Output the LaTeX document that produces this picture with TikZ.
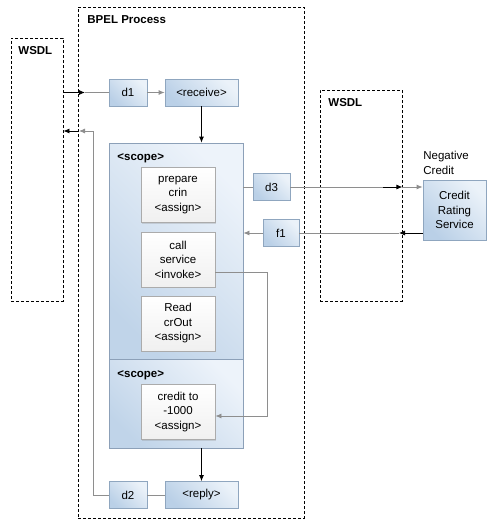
\documentclass[tikz,border=0pt]{standalone}
\usepackage{fontspec}
\setmainfont{Liberation Sans}
\usetikzlibrary{arrows.meta,shadows}
\definecolor{boxdark}{HTML}{BAD0E7}
\definecolor{boxlight}{HTML}{EBF2F9}
\definecolor{boxline}{HTML}{8FA6BF}
\definecolor{scopedark}{HTML}{C0D4E9}
\definecolor{scopelight}{HTML}{EDF3FA}
\definecolor{scopeline}{HTML}{8CA0B8}
\definecolor{actline}{HTML}{ABABAB}
\definecolor{flow}{HTML}{8E8E8E}

\begin{document}
\begin{tikzpicture}[x=1pt, y=-1pt, font=\fontsize{11.5}{14.5}\selectfont, line width=0.8pt,
  part/.style={draw=black, dash pattern=on 3pt off 2pt, minimum width=#1, inner sep=0pt},
  var/.style={draw=boxline, bottom color=boxdark, top color=boxlight, shading angle=-45, minimum height=27pt, minimum width=#1, inner sep=0pt},
  scopebox/.style={draw=scopeline, bottom color=scopedark, top color=scopelight, shading angle=-45, minimum width=134pt, inner sep=0pt},
  act/.style={draw=actline, top color=white, bottom color=black!6, minimum width=74pt, minimum height=55pt, align=center, inner sep=0pt,
    drop shadow={shadow xshift=1pt, shadow yshift=-1pt, opacity=.25}},
  lbl/.style={font=\fontsize{11.5}{14.5}\selectfont\bfseries, anchor=base west, inner sep=0pt},
  msg/.style={draw=flow, -{Latex[length=6pt,width=5pt]}},
  ctl/.style={draw=black, -{Latex[length=6pt,width=5pt]}},
  flowline/.style={draw=flow}]
  \useasboundingbox (0,0) rectangle (491,527);

  % partners and process
  \node[part=226pt, minimum height=511pt] (bpel) at (191,262.5) {};
  \node[part=52pt, minimum height=263pt] (wsdlL) at (37,169.5) {};
  \node[part=82pt, minimum height=211pt] (wsdlR) at (361,195.5) {};
  \node[lbl] (bpelLbl) at (87,23.5) {BPEL Process};
  \node[lbl] (wsdlLLbl) at (18,54.5) {WSDL};
  \node[lbl] (wsdlRLbl) at (328,106) {WSDL};

  % scopes
  \node[scopebox, minimum height=216pt] (scopeA) at (176,251) {};
  \node[scopebox, minimum height=89pt] (scopeB) at (176,403.5) {};
  \node[lbl] (scopeALbl) at (117,160) {<scope>};
  \node[lbl] (scopeBLbl) at (117,377) {<scope>};

  % activities
  \node[act] (prep) at (178,195) {prepare\\crin\\<assign>};
  \node[act] (call) at (178,259.5) {call\\service\\<invoke>};
  \node[act] (read) at (178,323.5) {Read\\crOut\\<assign>};
  \node[act] (credit) at (178,412) {credit to\\-1000\\<assign>};

  % variables and receive/reply
  \node[var=38pt] (d1) at (128,92.5) {d1};
  \node[var=73pt] (receive) at (201.5,92.5) {<receive>};
  \node[var=38pt] (d2) at (128,495) {d2};
  \node[var=73pt] (reply) at (201.5,495) {<reply>};
  \node[var=37pt] (d3) at (271.5,187) {d3};
  \node[var=36pt] (f1) at (281,233) {f1};
  \node[var=63pt, minimum height=60pt, align=center] (crs) at (454.5,210) {Credit\\Rating\\Service};
  \node[anchor=north west, inner sep=0pt, align=left] (negLbl) at (423,151) {Negative\\Credit};

  % connectors
  \coordinate (inL) at (85,92.5);
  \coordinate (outL) at (79,131);
  \coordinate (turnL) at (93,131);
  \coordinate (outR) at (383,187);
  \coordinate (inR) at (399,233);

  \draw[ctl] (wsdlL.east |- d1) -- (inL);
  \draw[flowline] (inL) -- (d1);
  \draw[msg] (d1) -- (receive);
  \draw[ctl] (receive) -- (receive |- scopeA.north);
  \draw[flowline] (scopeA.east |- d3) -- (d3);
  \draw[flowline] (d3) -- (outR);
  \draw[ctl] (outR) -- (wsdlR.east |- d3);
  \draw[msg] (wsdlR.east |- d3) -- (crs.west |- d3);
  \draw[ctl] (crs.west |- f1) -- (inR);
  \draw[flowline] (inR) -- (f1);
  \draw[msg] (f1) -- (scopeA.east |- f1);
  \draw[msg] ([yshift=-12.5pt]call.east) -- ++(52,0) |- ([yshift=-4pt]credit.east);
  \draw[ctl] (reply |- scopeB.south) -- (reply);
  \draw[flowline] (reply) -- (d2);
  \draw[msg] (d2) -| (turnL) -- (outL);
  \draw[ctl] (outL) -- (wsdlL.east |- outL);
\end{tikzpicture}
\end{document}
